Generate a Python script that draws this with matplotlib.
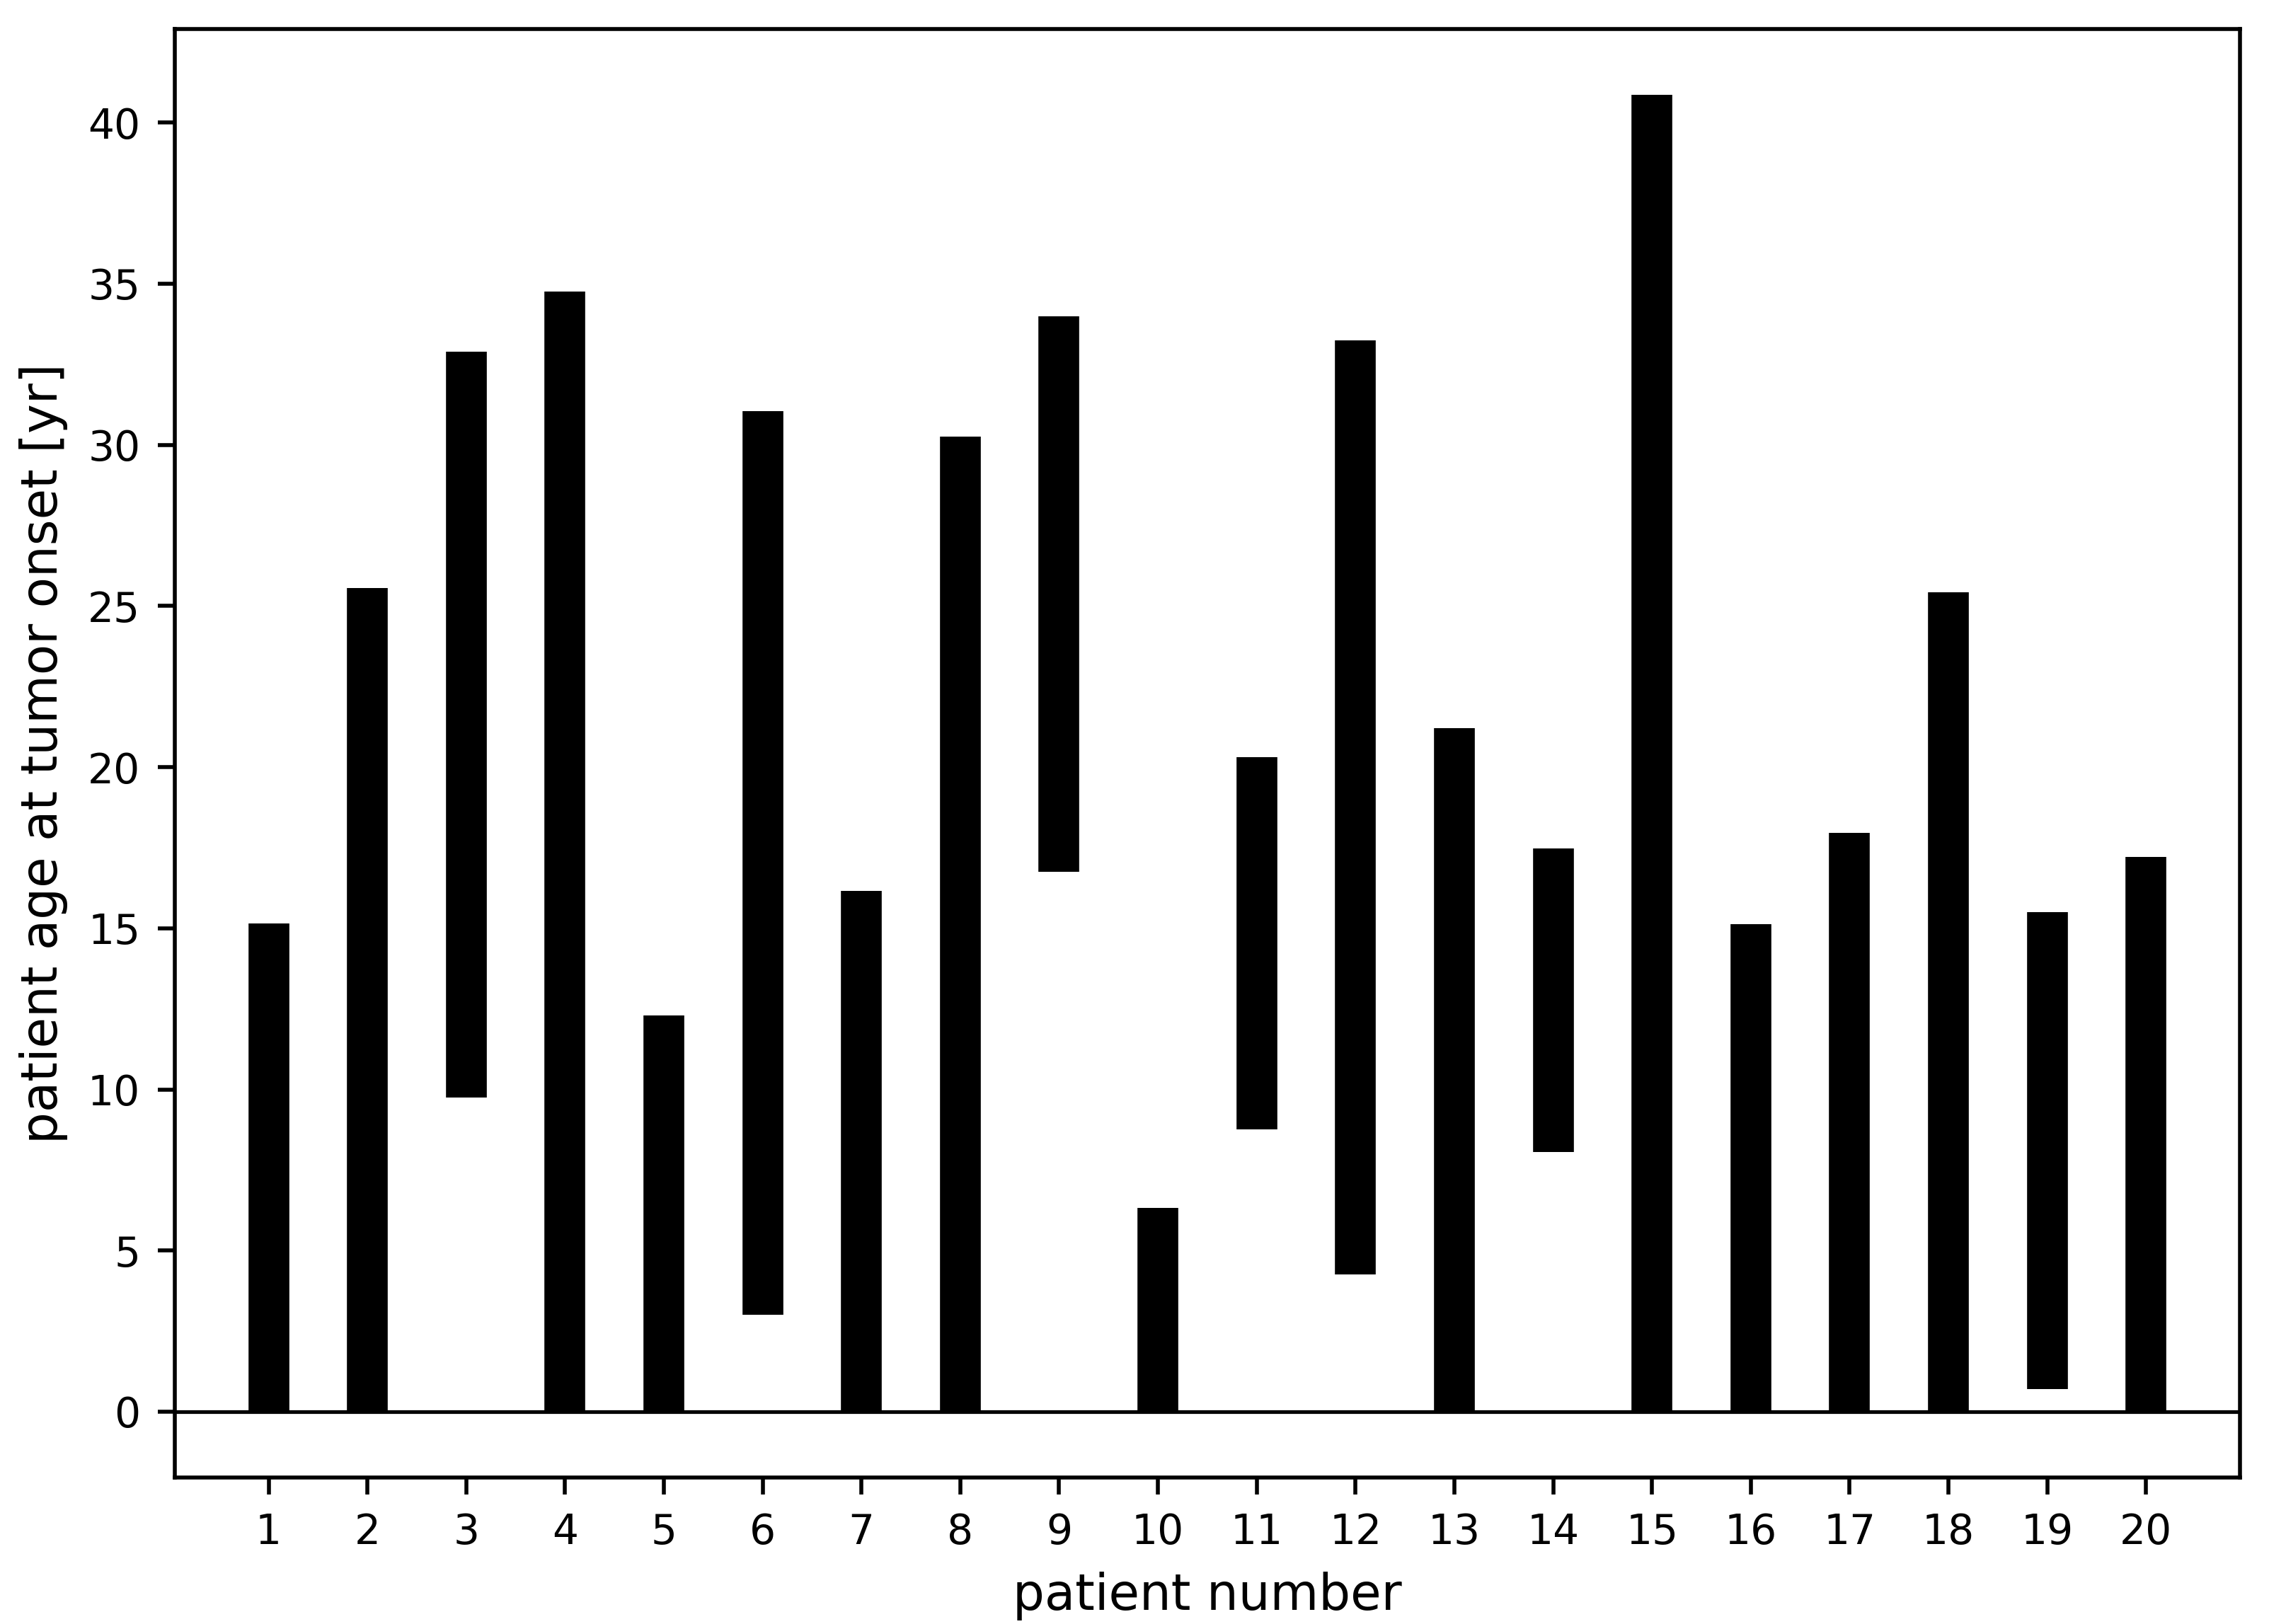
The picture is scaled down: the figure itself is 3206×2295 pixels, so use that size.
import matplotlib
matplotlib.use("Agg")
import matplotlib.pyplot as plt
import numpy as np

patients = list(range(1, 21))
onset_low = [0, 0, 9.75, 0, 0, 3.0, 0, 0, 16.75, 0,
             8.75, 4.25, 0, 8.05, 0, 0, 0, 0, 0.7, 0]
onset_high = [15.15, 25.55, 32.9, 34.75, 12.3, 31.05, 16.15, 30.25, 34.0, 6.32,
              20.3, 33.25, 21.2, 17.48, 40.86, 15.12, 17.95, 25.42, 15.5, 17.22]
tick_labels = [str(p) for p in patients]

plt.rcParams['font.family'] = ['DejaVu Sans']

fig = plt.figure(figsize=(3206 / 500, 2295 / 500), dpi=500)
ax = fig.add_axes([0.0770, 0.0902, 0.9102, 0.8919])

ax.vlines(patients, onset_low, onset_high, colors='k', linewidth=8.3)
ax.axhline(0, color='k', linewidth=0.75)

ax.set_xticks(patients)
ax.set_xticklabels(tick_labels)
ax.tick_params(labelsize=8.4)
ax.set_xlabel('patient number', fontsize=10.2)
ax.set_ylabel('patient age at tumor onset [yr]', fontsize=10.2)

fig.savefig('out.png', dpi=500)
